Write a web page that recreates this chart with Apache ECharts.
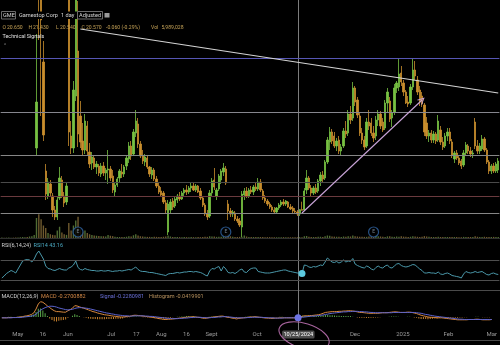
<!DOCTYPE html>
<html><head><meta charset="utf-8">
<script src="https://cdn.jsdelivr.net/npm/echarts@6/dist/echarts.min.js"></script>
<style>html,body{margin:0;padding:0;background:#000;}#c{width:500px;height:345px;}</style>
</head><body><div id="c"></div>
<script>
// ---------- data ----------
const tradingDays = [
  ['2024-04',[22,23,24,25,26,29,30]],
  ['2024-05',[1,2,3,6,7,8,9,10,13,14,15,16,17,20,21,22,23,24,28,29,30,31]],
  ['2024-06',[3,4,5,6,7,10,11,12,13,14,17,18,20,21,24,25,26,27,28]],
  ['2024-07',[1,2,3,5,8,9,10,11,12,15,16,17,18,19,22,23,24,25,26,29,30,31]],
  ['2024-08',[1,2,5,6,7,8,9,12,13,14,15,16,19,20,21,22,23,26,27,28,29,30]],
  ['2024-09',[3,4,5,6,9,10,11,12,13,16,17,18,19,20,23,24,25,26,27,30]],
  ['2024-10',[1,2,3,4,7,8,9,10,11,14,15,16,17,18,21,22,23,24,25,28,29,30,31]],
  ['2024-11',[1,4,5,6,7,8,11,12,13,14,15,18,19,20,21,22,25,26,27,29]],
  ['2024-12',[2,3,4,5,6,9,10,11,12,13,16,17,18,19,20,23,24,26,27,30,31]],
  ['2025-01',[2,3,6,7,8,10,13,14,15,16,17,21,22,23,24,27,28,29,30,31]],
  ['2025-02',[3,4,5,6,7,10,11,12,13,14,18,19,20,21,24,25,26,27,28]],
  ['2025-03',[3]]
];
const dates = [];
tradingDays.forEach(([m, ds]) => ds.forEach(d => dates.push(m + '-' + String(d).padStart(2, '0'))));

const open = [
10.8,10.9,10.7,10.9,11.0,11.2,11.0,10.8,11.2,11.6,12.2,12.6,12.3,13.3,14.8,
26.8,60.0,46.0,35.4,24.5,22.0,23.2,22.0,20.6,19.9,21.8,23.6,22.0,21.4,42.0,
28.0,26.8,32.0,36.5,30.0,27.5,26.6,29.0,26.4,25.3,25.8,24.9,25.0,24.2,25.0,
24.3,24.6,24.7,24.0,22.4,23.1,23.8,24.4,24.2,25.0,25.7,27.0,26.2,28.3,29.2,
27.2,26.0,25.4,25.8,24.9,24.1,24.6,23.7,23.0,22.5,22.3,21.3,18.4,20.6,21.5,
21.0,21.6,22.0,21.7,22.3,22.6,22.4,22.8,23.0,22.6,23.0,22.5,21.8,21.1,20.2,
20.0,22.3,23.6,22.0,22.7,23.6,24.4,24.7,21.2,20.5,20.2,20.3,19.7,19.5,18.9,
22.1,22.5,22.0,22.6,22.4,22.9,22.7,23.4,22.5,21.8,21.5,21.2,20.9,20.6,20.4,
20.8,21.1,21.4,21.2,21.4,20.9,20.8,20.5,20.4,20.2,20.65,20.6,22.6,23.8,22.8,
22.3,22.8,22.5,23.5,24.1,23.8,25.4,27.4,28.4,28.0,27.0,27.6,26.5,27.0,28.5,
28.3,30.2,29.8,32.8,31.6,30.0,28.3,27.6,27.0,29.4,29.3,28.3,28.0,29.6,30.2,
29.4,28.8,31.3,31.5,29.8,30.4,32.8,32.9,34.3,33.3,32.4,31.4,31.3,32.9,34.6,
33.6,32.6,32.0,31.1,29.3,28.0,28.3,27.6,28.2,27.6,28.6,27.4,27.0,28.0,28.4,
27.4,25.7,26.3,25.8,25.5,25.1,26.3,27.0,26.5,26.2,29.4,27.0,26.5,26.7,27.7,
26.6,25.4,24.5,25.0,24.5,24.6];
const high = [
11.1,11.0,11.0,11.2,11.3,11.4,11.1,11.3,11.8,12.4,12.9,12.8,13.5,15.0,17.7,
38.2,64.8,47.0,37.5,25.2,23.8,23.6,22.3,21.0,21.9,24.9,24.0,22.4,23.3,42.6,
29.5,33.5,48.0,41.5,31.5,29.3,30.2,29.5,27.3,26.4,26.0,25.5,25.2,25.3,25.4,
24.8,26.6,25.0,24.6,23.3,23.9,24.7,25.2,25.1,26.0,27.4,27.5,28.7,30.6,29.8,
27.5,26.6,26.2,26.0,25.0,24.9,24.8,24.0,23.4,22.9,22.5,21.6,21.6,21.7,21.8,
21.9,22.2,22.4,22.5,22.8,23.1,23.0,23.3,23.4,23.2,23.1,22.8,22.0,21.3,20.6,
22.6,23.8,24.8,22.8,24.2,24.7,25.3,25.0,21.6,20.8,20.6,20.5,20.0,19.8,22.5,
22.8,22.9,22.8,23.0,23.1,23.4,23.8,23.7,22.7,22.1,21.7,21.4,21.1,20.9,20.9,
21.3,21.6,21.7,21.6,21.5,21.2,21.0,20.8,20.6,20.7,21.43,22.8,24.6,24.0,23.1,
23.0,23.2,23.7,24.4,24.5,25.6,27.9,28.9,28.7,28.4,27.8,28.0,27.2,28.8,29.5,
30.6,31.0,33.4,33.0,31.9,30.3,28.8,28.0,29.8,30.6,29.8,29.0,30.0,30.6,30.5,
29.8,31.6,32.8,31.9,30.6,33.2,33.5,35.8,35.0,33.6,32.6,32.0,33.2,35.8,35.5,
34.0,33.0,32.4,31.3,29.9,28.6,28.6,28.5,28.4,30.1,29.0,27.9,28.3,28.8,28.8,
27.7,26.5,26.6,26.0,25.7,26.6,27.4,27.2,26.9,26.6,29.8,27.6,27.3,28.1,27.9,
26.8,25.6,25.2,25.3,25.4,25.8];
const low = [
10.6,10.6,10.5,10.7,10.8,10.9,10.7,10.7,11.1,11.5,12.0,12.1,12.2,13.1,14.6,
26.0,37.6,30.0,27.5,21.6,21.7,21.9,19.9,19.6,19.6,21.6,21.8,20.9,21.1,27.0,
26.2,26.3,31.5,26.9,26.8,26.0,26.2,26.0,24.8,24.6,24.7,24.2,24.0,23.9,24.0,
23.6,23.2,23.5,22.3,22.0,22.9,23.3,23.8,23.9,24.6,25.3,25.6,26.0,27.9,26.8,
25.8,25.2,25.0,24.7,23.9,23.7,23.5,22.8,22.2,21.9,21.2,20.3,18.1,20.2,20.6,
20.8,21.3,21.5,21.6,22.0,22.1,22.2,22.4,22.5,22.4,22.3,21.6,20.9,20.0,19.6,
19.8,22.0,22.6,21.6,22.5,23.2,24.0,23.1,19.6,19.9,19.9,19.5,19.3,18.9,17.9,
21.6,21.8,21.8,22.2,22.1,22.5,22.5,22.4,21.6,21.3,21.0,20.7,20.4,20.2,20.3,
20.6,20.9,21.0,21.0,20.8,20.6,20.3,20.2,20.0,20.0,20.54,20.5,22.2,22.6,22.0,
22.1,22.2,22.3,23.0,23.4,23.6,25.2,26.6,27.2,26.8,26.5,26.2,26.1,26.8,27.8,
28.0,29.2,29.5,31.0,29.8,28.0,27.2,26.6,26.8,28.6,28.0,27.4,27.6,29.0,28.7,
28.4,28.6,30.4,29.4,28.9,30.1,32.3,32.5,33.0,32.0,31.2,30.9,31.1,32.6,33.6,
32.1,31.0,30.9,28.0,27.7,27.4,27.3,27.3,27.2,27.4,27.1,26.6,26.8,27.5,27.2,
25.8,25.3,25.6,25.1,24.7,24.9,26.0,26.2,25.9,25.8,26.7,26.2,26.2,26.5,26.4,
25.2,24.2,24.2,24.3,24.3,24.3];
const close = [
10.9,10.7,10.9,11.0,11.2,11.0,10.8,11.2,11.6,12.2,12.6,12.3,13.3,14.8,17.5,
31.4,48.8,39.6,28.1,22.2,23.4,22.3,20.6,19.9,21.6,23.8,22.0,21.3,23.0,28.4,
26.8,32.6,46.6,28.2,27.4,26.6,29.5,26.5,25.2,25.9,24.9,25.2,24.3,25.0,24.3,
24.6,24.7,23.8,22.6,23.1,23.7,24.5,24.2,24.9,25.8,27.0,26.0,28.4,29.5,27.2,
26.0,25.5,25.9,24.9,24.2,24.6,23.7,23.0,22.4,22.1,21.4,20.6,21.2,21.4,20.9,
21.7,22.0,21.7,22.3,22.6,22.4,22.8,23.0,22.6,23.0,22.4,21.8,21.1,20.2,19.9,
22.3,23.5,22.9,22.6,24.0,24.5,24.8,23.3,20.5,20.2,20.4,19.7,19.5,19.1,22.2,
22.5,22.0,22.6,22.4,22.9,22.7,23.4,22.6,21.8,21.5,21.2,20.9,20.6,20.4,20.8,
21.1,21.4,21.2,21.5,20.9,20.7,20.5,20.4,20.2,20.63,20.57,22.5,23.8,22.8,22.3,
22.8,22.4,23.5,24.1,23.7,25.4,27.6,28.4,27.5,27.0,27.5,26.5,26.9,28.5,28.2,
30.2,29.6,32.8,31.4,30.1,28.3,27.6,26.9,29.4,29.0,28.3,27.8,29.6,30.2,29.0,
28.6,31.3,32.4,29.7,30.3,32.8,33.3,34.2,33.4,32.4,31.3,31.2,32.9,34.6,34.0,
32.4,31.4,31.2,28.4,28.0,28.3,27.6,28.2,27.5,29.5,27.4,26.9,28.0,28.4,27.5,
26.1,26.3,25.8,25.3,25.0,26.3,27.1,26.5,26.2,26.3,27.0,26.5,27.0,27.7,26.6,
25.4,24.5,25.0,24.5,25.2,25.5];
// volume in millions of shares
const volume = [
4,3,3,4,3,3,4,5,6,8,7,9,12,15,25,
160,190,150,100,80,40,30,25,22,60,90,45,30,25,120,60,100,140,170,70,50,60,40,30,25,20,18,16,15,14,13,25,18,15,
10,9,8,9,8,10,14,12,22,30,20,14,
12,10,9,9,8,10,9,8,9,10,12,
20,12,9,8,8,7,7,8,7,7,8,7,7,8,7,8,10,9,14,12,
12,9,11,10,12,25,30,14,10,9,8,9,10,20,12,9,9,8,8,9,
8,8,7,7,7,6,6,6,7,7,7,6,7,6,6,6,6,7,6,
14,16,10,9,8,8,10,10,9,15,20,18,12,11,10,10,9,12,11,14,12,20,14,12,11,
10,9,9,12,10,10,20,14,12,10,9,13,14,10,9,12,10,15,11,10,
9,10,15,12,10,9,10,15,12,10,9,8,9,10,8,8,9,8,8,9,
8,8,7,7,9,9,8,8,8,15,10,9,9,10,9,9,8,9,8,9];
const rsi14 = [
34,38,43,46,49,47,44,52,60,68,70,71,70,66,72,
82,88,80,72,58,53,52,50,49,51,53,51,50,50,54,
56,60,68,55,51,50,53,51,50,49,49,48,48,49,48,
48,49,48,47,48,48,49,48,49,50,51,50,53,56,51,
48,47,47,46,45,45,44,43,42,41,40,39,42,43,43,
44,45,44,45,46,46,47,47,46,47,46,45,43,40,38,
48,53,52,55,57,48,57,52,45,44,45,43,46,50,52,
46,45,50,53,54,54,47,46,45,44,44,44,45,46,47,
48,49,50,50,48,47,46,45,44,45,43.16,60,59,56,55,
57,56,58,60,59,66,74,70,66,65,67,64,66,70,66,
68,67,73,62,59,57,55,54,58,56,52,50,55,58,55,
54,58,60,55,54,58,62,63,59,57,56,57,59,61,60,
56,52,49,44,44,45,44,44,43,46,42,41,43,44,42,
39,38,37,36,34,42,47,45,44,45,47,45,46,47,44,
41,40,43,44,42,41];
const macd = [
-0.3,-0.3,-0.3,-0.2,-0.2,-0.2,-0.2,-0.1,0,0.1,0.3,0.4,0.6,0.9,1.4,
2.8,4.6,5.4,5.2,4.6,3.9,3.3,2.7,2.2,1.9,1.9,1.8,1.7,1.7,2.2,
2.6,3.1,4.0,3.9,3.6,3.3,3.1,2.8,2.5,2.2,1.9,1.7,1.4,1.2,1.0,
0.8,0.7,0.6,0.4,0.3,0.2,0.1,0.0,0.0,0.1,0.2,0.2,0.4,0.6,0.6,
0.5,0.4,0.3,0.2,0.1,0.0,-0.1,-0.3,-0.4,-0.6,-0.7,-0.9,-0.9,-0.8,-0.8,
-0.7,-0.6,-0.5,-0.4,-0.3,-0.2,-0.1,0.0,0.0,0.1,0.0,-0.1,-0.2,-0.4,-0.5,
-0.4,-0.2,-0.1,0.0,0.1,0.2,0.3,0.3,0.1,-0.1,-0.2,-0.4,-0.5,-0.7,-0.5,
-0.4,-0.3,-0.2,-0.1,0.0,0.0,0.1,0.0,-0.1,-0.2,-0.3,-0.4,-0.4,-0.5,-0.5,
-0.4,-0.4,-0.3,-0.3,-0.3,-0.3,-0.3,-0.3,-0.3,-0.3,-0.27,0.0,0.3,0.4,0.4,
0.5,0.5,0.6,0.7,0.8,1.0,1.3,1.6,1.7,1.8,1.9,1.9,1.9,2.0,2.0,
2.1,2.1,2.2,2.2,2.1,2.0,1.8,1.6,1.6,1.5,1.4,1.3,1.3,1.3,1.3,
1.3,1.4,1.5,1.5,1.5,1.6,1.7,1.8,1.8,1.7,1.6,1.6,1.6,1.7,1.7,
1.6,1.4,1.2,0.9,0.6,0.4,0.2,0.0,-0.1,-0.1,-0.2,-0.3,-0.3,-0.3,-0.4,
-0.5,-0.6,-0.7,-0.8,-0.9,-1.0,-1.0,-1.0,-1.0,-1.0,-0.9,-0.9,-0.9,-0.8,-0.8,
-0.9,-1.0,-1.0,-1.0,-1.0,-0.9];
const signal = [
-0.3,-0.3,-0.3,-0.3,-0.3,-0.2,-0.2,-0.2,-0.2,-0.1,0.0,0.1,0.2,0.3,0.5,
1.0,1.7,2.4,2.9,3.3,3.6,3.8,3.8,3.7,3.5,3.2,3.0,2.8,2.6,2.5,
2.6,2.7,3.0,3.2,3.3,3.3,3.2,3.1,3.0,2.8,2.6,2.4,2.2,2.0,1.8,
1.6,1.4,1.3,1.1,1.0,0.8,0.7,0.6,0.5,0.4,0.4,0.3,0.3,0.4,0.4,
0.4,0.4,0.4,0.3,0.3,0.2,0.2,0.1,0.0,-0.1,-0.2,-0.3,-0.4,-0.5,-0.5,
-0.6,-0.6,-0.6,-0.5,-0.5,-0.4,-0.4,-0.3,-0.2,-0.2,-0.1,-0.1,-0.1,-0.2,-0.2,
-0.3,-0.3,-0.2,-0.2,-0.1,0.0,0.0,0.1,0.1,0.1,0.0,-0.1,-0.2,-0.3,-0.3,
-0.3,-0.3,-0.3,-0.2,-0.2,-0.1,-0.1,-0.1,-0.1,-0.1,-0.2,-0.2,-0.3,-0.3,-0.3,
-0.4,-0.4,-0.4,-0.4,-0.3,-0.3,-0.3,-0.3,-0.3,-0.25,-0.23,-0.2,-0.1,0.0,0.1,
0.2,0.3,0.3,0.4,0.5,0.6,0.7,0.9,1.0,1.2,1.3,1.4,1.5,1.6,1.7,
1.8,1.8,1.9,1.9,2.0,2.0,2.0,1.9,1.9,1.8,1.8,1.7,1.6,1.6,1.5,
1.5,1.5,1.5,1.5,1.5,1.5,1.5,1.6,1.6,1.6,1.6,1.6,1.6,1.6,1.6,
1.6,1.6,1.5,1.4,1.3,1.1,0.9,0.8,0.6,0.5,0.3,0.2,0.1,0.0,-0.1,
-0.2,-0.3,-0.4,-0.5,-0.6,-0.7,-0.8,-0.8,-0.9,-0.9,-0.9,-0.9,-0.9,-0.9,-0.9,
-0.9,-0.9,-0.9,-0.9,-0.9,-0.9];
const histogram = [
0,0,0,0.1,0.1,0,0,0.1,0.2,0.2,0.3,0.3,0.4,0.6,0.9,
1.8,2.9,3.0,2.3,1.3,0.3,-0.5,-1.1,-1.5,-1.6,-1.3,-1.2,-1.1,-0.9,-0.3,
0.0,0.4,1.0,0.7,0.3,0.0,-0.1,-0.3,-0.5,-0.6,-0.7,-0.7,-0.8,-0.8,-0.8,
-0.8,-0.7,-0.7,-0.7,-0.7,-0.6,-0.6,-0.6,-0.5,-0.3,-0.2,-0.1,0.1,0.2,0.2,
0.1,0.0,-0.1,-0.1,-0.2,-0.2,-0.3,-0.4,-0.4,-0.5,-0.5,-0.6,-0.5,-0.3,-0.3,
-0.1,0.0,0.1,0.1,0.2,0.2,0.3,0.3,0.2,0.3,0.1,0.0,-0.1,-0.2,-0.3,
-0.1,0.1,0.1,0.2,0.2,0.2,0.3,0.2,0.0,-0.2,-0.2,-0.3,-0.3,-0.4,-0.2,
-0.1,0.0,0.1,0.1,0.2,0.1,0.2,0.1,0.0,-0.1,-0.1,-0.2,-0.1,-0.2,-0.2,
0.0,0.0,0.1,0.1,0.0,0.0,0.0,0.0,0.0,-0.05,-0.04,0.2,0.4,0.4,0.3,
0.3,0.2,0.3,0.3,0.3,0.4,0.6,0.7,0.7,0.6,0.6,0.5,0.4,0.4,0.3,
0.3,0.3,0.3,0.3,0.1,0.0,-0.2,-0.3,-0.3,-0.3,-0.4,-0.4,-0.3,-0.3,-0.2,
-0.2,-0.1,0.0,0.0,0.0,0.1,0.2,0.2,0.2,0.1,0.0,0.0,0.0,0.1,0.1,
0.0,-0.2,-0.3,-0.5,-0.7,-0.7,-0.7,-0.8,-0.7,-0.6,-0.5,-0.5,-0.4,-0.3,-0.3,
-0.3,-0.3,-0.3,-0.3,-0.3,-0.3,-0.2,-0.2,-0.1,-0.1,0.0,0.0,0.0,0.1,0.1,
0.0,-0.1,-0.1,-0.1,-0.1,0.0];

const tickDates = ['2024-05-01','2024-05-16','2024-06-03','2024-07-01','2024-07-17','2024-08-01','2024-08-16','2024-09-03','2024-10-01','2024-12-02','2025-01-02','2025-02-03','2025-03-03'];
const tickTexts = ['May','16','Jun','Jul','17','Aug','16','Sept','Oct','Dec','2025','Feb','Mar'];
const priceLevels = [35.8, 30.4, 26.1, 23.4, 22.0, 20.3];
const trendLine = [['2024-06-10', 38.7], ['2025-03-03', 32.3]];
const arrowLine = [['2024-10-25', 20.3], ['2025-01-13', 31.6]];
const earningsDates = ['2024-06-07', '2024-09-10', '2024-12-10'];
const crossDate = '2024-10-25';

// ---------- styles ----------
const UP = '#77c142', DOWN = '#c98e2d';
const levelColors = ['#5656b4', '#86868e', '#868686', '#4a4a4a', '#6a3a3e', '#868686'];
const FONT = 'Roboto';

const candles = dates.map((d, i) => [open[i], close[i], low[i], high[i]]);
const volData = volume.map((v, i) => ({ value: v, itemStyle: { color: close[i] >= open[i] ? '#506c34' : '#705b2f' } }));
const histData = histogram.map(v => ({ value: v, itemStyle: { color: v >= 0 ? '#5aa84a' : '#c8822e' } }));
const tickMap = {}; tickDates.forEach((d, i) => tickMap[d] = tickTexts[i]);

const L = 0.7, R = 0.6;
const hiddenX = (gi) => ({ type: 'category', gridIndex: gi, data: dates, boundaryGap: true, show: false });
const chart = echarts.init(document.getElementById('c'), null, { renderer: 'canvas' });
chart.setOption({
  backgroundColor: '#000',
  animation: false,
  grid: [
    { left: L, right: R, top: 0, height: 238 },
    { left: L, right: R, top: 188, height: 50 },
    { left: L, right: R, top: 245, height: 50 },
    { left: L, right: R, top: 300, height: 28 }
  ],
  xAxis: [hiddenX(0), hiddenX(1), hiddenX(2), {
    type: 'category', gridIndex: 3, data: dates, boundaryGap: true,
    axisLine: { show: false }, axisTick: { show: false }, splitLine: { show: false },
    axisLabel: { interval: (i, v) => v in tickMap, formatter: v => tickMap[v] || '', color: '#9a9a9a', fontSize: 6, fontFamily: FONT, margin: 3 }
  }],
  yAxis: [
    { gridIndex: 0, min: 17.8, max: 41.6, show: false, splitLine: { show: false } },
    { gridIndex: 1, min: 0, max: 400, show: false, splitLine: { show: false } },
    { gridIndex: 2, min: 0, max: 100, show: false, splitLine: { show: false } },
    { gridIndex: 3, min: -3.9, max: 6.0, show: false, splitLine: { show: false } }
  ],
  series: [
    {
      type: 'bar', xAxisIndex: 1, yAxisIndex: 1, data: volData, barWidth: '60%', silent: true, z: 1
    },
    {
      type: 'candlestick', xAxisIndex: 0, yAxisIndex: 0, data: candles, barWidth: '80%', clip: true, silent: true,
      itemStyle: { color: UP, color0: DOWN, borderColor: UP, borderColor0: DOWN, borderWidth: 0.8 },
      markLine: {
        silent: true, animation: false, symbol: ['none', 'none'], label: { show: false },
        data: [
          ...priceLevels.map((v, i) => ({ yAxis: v, lineStyle: { color: levelColors[i], width: 1, type: 'solid' } })),
          [{ coord: trendLine[0], lineStyle: { color: '#d4d4d4', width: 1.2, type: 'solid' } }, { coord: trendLine[1] }],
          [{ coord: arrowLine[0], lineStyle: { color: '#c9a4d8', width: 1.1, type: 'solid' } },
           { coord: arrowLine[1], symbol: 'path://M0,10 L5,0 L10,10 L8.6,10 L5,2.8 L1.4,10 Z', symbolSize: [7, 7] }]
        ]
      }
    },
    {
      type: 'scatter', xAxisIndex: 0, yAxisIndex: 0, silent: true, z: 5,
      data: earningsDates.map(d => [d, 18.4]),
      symbol: 'circle', symbolSize: 10,
      itemStyle: { color: '#000', borderColor: '#2f64a3', borderWidth: 1.2 },
      label: { show: true, position: 'inside', formatter: 'E', color: '#8fa0b0', fontSize: 5, fontFamily: FONT }
    },
    {
      type: 'line', xAxisIndex: 2, yAxisIndex: 2, data: rsi14, showSymbol: false, silent: true,
      lineStyle: { color: '#4a98aa', width: 1 },
      markLine: { silent: true, symbol: ['none', 'none'], label: { show: false },
        data: [{ yAxis: 70 }, { yAxis: 30 }], lineStyle: { color: '#4e4e4e', width: 1, type: 'solid' } },
      markPoint: { silent: true, symbol: 'circle', symbolSize: 7, label: { show: false },
        itemStyle: { color: '#5cc9df' }, data: [{ coord: [crossDate, rsi14[dates.indexOf(crossDate)]] }] }
    },
    {
      type: 'bar', xAxisIndex: 3, yAxisIndex: 3, data: histData, barWidth: 1, silent: true
    },
    {
      type: 'line', xAxisIndex: 3, yAxisIndex: 3, data: macd, showSymbol: false, silent: true,
      lineStyle: { color: '#d8883c', width: 1 }
    },
    {
      type: 'line', xAxisIndex: 3, yAxisIndex: 3, data: signal, showSymbol: false, silent: true,
      lineStyle: { color: '#5c63cc', width: 1 },
      markPoint: { silent: true, symbol: 'circle', symbolSize: 7, label: { show: false },
        itemStyle: { color: '#6d74e4' }, data: [{ coord: [crossDate, macd[dates.indexOf(crossDate)]] }] }
    }
  ]
});

const cx = chart.convertToPixel({ xAxisIndex: 3 }, crossDate);
const txt = (x, y, s, color, size, extra) => Object.assign({ type: 'text', x: x, y: y, z: 100, silent: true,
  style: { text: s, fill: color, font: (size || 5.5) + 'px ' + FONT, textVerticalAlign: 'middle' } }, extra || {});
const hline = (y, color) => ({ type: 'line', z: 0, silent: true, shape: { x1: 0, y1: y, x2: 500, y2: y }, style: { stroke: color, lineWidth: 1 } });
const gold = '#c4a156';
chart.setOption({
  graphic: { elements: [
    hline(238.5, '#2e2e2e'), hline(290.5, '#4a4a4a'), hline(340.5, '#4a4a4a'),
    { type: 'line', z: 1, silent: true, shape: { x1: Math.round(cx) + 0.5, y1: 0, x2: Math.round(cx) + 0.5, y2: 330 }, style: { stroke: '#7c7c7c', lineWidth: 1 } },
    // header box
    { type: 'rect', z: 99, silent: true, shape: { x: 1.5, y: 11.5, width: 14, height: 7.5 }, style: { fill: '#000', stroke: '#6a6a6a', lineWidth: 1 } },
    { type: 'rect', z: 99, silent: true, shape: { x: 16, y: 11.5, width: 95, height: 7.5 }, style: { fill: '#000', stroke: null } },
    { type: 'rect', z: 99, silent: true, shape: { x: 77.5, y: 11.5, width: 25, height: 7.5 }, style: { fill: 'none', stroke: '#6a6a6a', lineWidth: 1 } },
    { type: 'rect', z: 100, silent: true, shape: { x: 104.5, y: 13, width: 5, height: 4.5 }, style: { fill: '#9a9a9a' } },
    txt(3, 15.5, 'GME', '#d8d8d8', 5.6),
    txt(19, 15.5, 'Gamestop Corp', '#d8d8d8', 5.6),
    txt(61, 15.5, '1 day', '#d8d8d8', 5.6),
    txt(79, 15.5, 'Adjusted', '#d8d8d8', 5.6),
    txt(2.5, 28, 'O', gold, 5.1), txt(7, 28, '20.650', gold, 5.1),
    txt(28.5, 28, 'H', gold, 5.1), txt(33, 28, '21.430', gold, 5.1),
    txt(56, 28, 'L', gold, 5.1), txt(60, 28, '20.540', gold, 5.1),
    txt(81.5, 28, 'C', gold, 5.1), txt(86, 28, '20.570', gold, 5.1),
    txt(106, 28, '-0.060 (-0.29%)', gold, 5.1),
    txt(151, 28, 'Vol', gold, 5.1), txt(161.5, 28, '5,989,028', gold, 5.1),
    txt(2.5, 36.5, 'Technical Signals', '#e0e0e0', 5.4),
    txt(4, 46, '^', '#8a8a8a', 5),
    // RSI legend
    txt(1.5, 246, 'RSI(6,14,24)', '#d0d0d0', 5.5),
    txt(33.5, 246, 'RSI14 43.16', '#4aa9c2', 5.5),
    // MACD legend
    txt(1.5, 297, 'MACD(12,26,9)', '#d0d0d0', 5.5),
    txt(41, 297, 'MACD -0.2700882', '#d68a47', 5.5),
    txt(100, 297, 'Signal -0.2280981', '#6a70d8', 5.5),
    txt(149, 297, 'Histogram -0.0419901', '#b8925e', 5.5),
    // crosshair date label
    { type: 'rect', z: 101, silent: true, shape: { x: cx - 16, y: 330.5, width: 32.5, height: 8, r: 1.5 }, style: { fill: '#4d4d4d' } },
    { type: 'text', z: 102, silent: true, x: cx + 0.3, y: 334.6, style: { text: '10/25/2024', fill: '#ffffff', font: '5.6px ' + FONT, textAlign: 'center', textVerticalAlign: 'middle' } },
    // hand-drawn ellipse
    { type: 'ellipse', z: 103, silent: true, x: cx + 6, y: 336, rotation: -0.3, shape: { cx: 0, cy: 0, rx: 26, ry: 12.5 }, style: { fill: 'none', stroke: '#a8649e', lineWidth: 1.1 } }
  ] }
});
</script>
</body></html>
